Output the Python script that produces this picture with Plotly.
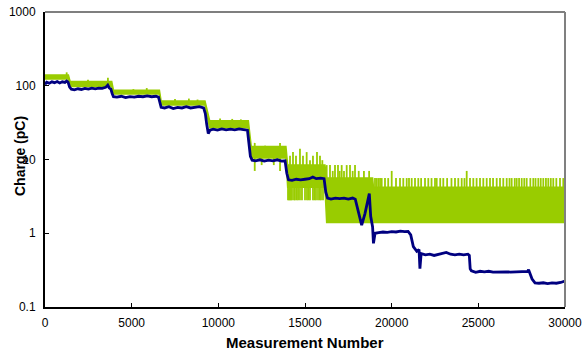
import plotly.graph_objects as go

# ---------------- data ----------------
# Blue trace (dark blue): measurement number / charge (pC)
blue_x = [0, 100, 250, 400, 550, 700, 850, 1000, 1150, 1250, 1330,
          1420, 1520,
          1700, 1900, 2100, 2300, 2500, 2700, 2900, 3100, 3300, 3500, 3620, 3700, 3800,
          3880, 3950,
          4150, 4400, 4650, 4900, 5150, 5400, 5650, 5900, 6150, 6400, 6550,
          6620, 6700,
          6900, 7150, 7400, 7650, 7900, 8150, 8400, 8650, 8900, 9150,
          9250, 9330, 9420, 9520,
          9700, 9950, 10200, 10450, 10700, 10950, 11200, 11450, 11680,
          11760, 11850, 11950,
          12150, 12400, 12650, 12900, 13150, 13400, 13650, 13850,
          13950, 14050,
          14250, 14500, 14750, 15000, 15250, 15450, 15650, 15900, 16100,
          16200, 16300,
          16500, 16750, 17000, 17250, 17500, 17750, 17900,
          18075, 18270, 18460, 18600, 18710, 18790, 18900, 18950, 19040,
          19250, 19500, 19750, 20000, 20250, 20500, 20750, 20950, 21100, 21250, 21450, 21580, 21630, 21700,
          21950, 22200, 22450, 22700, 22950, 23150, 23400, 23650, 23900, 24150, 24400, 24480,
          24530, 24600,
          24850, 25100, 25350, 25600, 25850, 26100, 26350, 26600, 26850, 27100, 27350, 27600, 27850, 27900, 27980,
          28100, 28270,
          28500, 28750, 29000, 29250, 29500, 29750, 30000]
blue_y = [104, 112, 108, 113, 110, 114, 109, 113, 111, 116, 112,
          96, 90,
          88, 91, 89, 92, 90, 93, 91, 93, 92, 95, 102, 94, 90,
          78, 71,
          70, 72, 69, 71, 70, 72, 71, 73, 71, 72, 70,
          58, 51,
          50, 52, 49, 51, 50, 52, 50, 51, 52, 50,
          42, 30, 22.5, 25,
          25.8, 25, 26, 25.3, 25.8, 25.2, 26, 25.5, 25,
          17, 11, 9.8,
          9.6, 9.9, 9.5, 9.8, 9.6, 9.9, 9.5, 9.6,
          6.5, 5.3,
          5.2, 5.4, 5.3, 5.4, 5.5, 5.8, 5.5, 5.6, 5.5,
          3.6, 3.0,
          2.9, 3.0, 2.95, 3.0, 2.9, 3.0, 2.9,
          2.06, 1.29, 1.85, 2.5, 3.45, 1.7, 1.22, 0.73, 1.0,
          1.02, 1.04, 1.03, 1.05, 1.04, 1.07, 1.05, 1.06, 0.95, 0.66, 0.57, 0.6, 0.33, 0.53,
          0.51, 0.52, 0.50, 0.52, 0.54, 0.55, 0.52, 0.51, 0.52, 0.51, 0.52, 0.50,
          0.33, 0.31,
          0.295, 0.305, 0.30, 0.305, 0.298, 0.30, 0.302, 0.30, 0.298, 0.30, 0.299, 0.30, 0.305, 0.32, 0.29,
          0.24, 0.212,
          0.21, 0.213, 0.208, 0.212, 0.21, 0.215, 0.225]

# Green trace (yellow-green): noisy band per plateau, min / max of the band
green_seg_start = [0, 1450, 3950, 6700, 9500, 11900, 14000, 16250, 18950]
green_seg_end = [1350, 3850, 6600, 9230, 11730, 13900, 16150, 18900, 30000]
green_lo = [123, 98, 77, 55, 27, 10.5, 4.2, 1.4, 1.4]
green_hi = [140, 114, 87, 62, 33.5, 15, 8.4, 5.6, 4.2]

# Green excursions above the band: position and peak value
up_x = [1250, 2480, 3630, 5100, 5870, 7500, 8300, 8800, 10100, 10800, 11300,
        12100, 12700, 13560,
        14135, 14307, 14480, 14710, 14884, 15096, 15288, 15460, 15692, 15865, 16000,
        16250, 16442, 16600, 16730, 16903, 17000, 17117, 17250, 17405, 17596, 17750, 17885, 18100, 18400, 18700,
        19038, 19130, 19229, 19330, 19425, 19615, 19800, 20002, 20250, 20480, 20671, 20867, 21000, 21155, 21346,
        21536, 21700, 21923, 22113, 22300, 22500, 22598, 22800, 22979, 23200, 23450, 23654, 23844, 24040, 24200,
        24329, 24519, 24710, 24900, 25096, 25287, 25482, 25673, 25850, 26059, 26250, 26440, 26636, 26800,
        26924, 27100, 27213, 27350, 27502, 27650, 27790, 28000, 28171, 28300, 28459, 28600, 28748, 28900,
        29036, 29180, 29324, 29500, 29711, 29901]
up_top = [152, 121, 128, 90, 93, 66, 67, 65, 36, 35.5, 35,
          16.8, 15.4, 16.8,
          11.2, 12.6, 11.2, 14.0, 11.2, 12.6, 9.8, 11.2, 12.6, 11.2, 9.8,
          8.4, 8.4, 7.0, 8.4, 8.4, 7.0, 8.4, 7.0, 8.4, 8.4, 7.0, 8.4, 7.0, 7.0, 7.0,
          5.6, 5.6, 5.6, 5.6, 5.6, 5.6, 5.6, 7.0, 5.6, 5.6, 5.6, 5.6, 5.6, 5.6, 5.6,
          5.6, 5.6, 5.6, 5.6, 5.6, 5.6, 5.6, 5.6, 5.6, 5.6, 5.6, 5.6, 5.6, 5.6, 5.6,
          7.0, 5.6, 5.6, 5.6, 5.6, 5.6, 5.6, 5.6, 5.6, 5.6, 5.6, 5.6, 5.6, 5.6,
          5.6, 5.6, 5.6, 5.6, 5.6, 5.6, 5.6, 5.6, 5.6, 5.6, 5.6, 5.6, 5.6, 5.6,
          5.6, 5.6, 5.6, 5.6, 5.6, 5.6]

# Green excursions below the band: position and lowest value
down_x = [12100, 12500, 13200, 13560,
          14020, 14080, 14135, 14190, 14250, 14365, 14420, 14520, 14600, 14710, 14826,
          15000, 15115, 15200, 15288, 15460, 15550, 15634, 15750, 15850, 15923, 16038]
down_bot = [7.0, 8.4, 8.4, 7.0,
            2.8, 2.8, 2.8, 2.8, 2.8, 2.8, 2.8, 2.8, 2.8, 2.8, 2.8,
            2.8, 2.8, 2.8, 2.8, 2.8, 2.8, 2.8, 2.8, 2.8, 2.8, 2.8]

x_ticks = [0, 5000, 10000, 15000, 20000, 25000, 30000]
y_ticks = [0.1, 1, 10, 100, 1000]
y_ticktext = ["0.1", "1", "10", "100", "1000"]

x_title = "Measurement Number"
y_title = "Charge (pC)"

GREEN = "#99CC00"
BLUE = "#000080"

# ---------------- build figure ----------------
def band_at(x):
    for s, e, lo, hi in zip(green_seg_start, green_seg_end, green_lo, green_hi):
        if s <= x <= e:
            return lo, hi
    return None

env_x, env_lo, env_hi = [], [], []
for s, e, lo, hi in zip(green_seg_start, green_seg_end, green_lo, green_hi):
    env_x += [s, e]
    env_lo += [lo, lo]
    env_hi += [hi, hi]

sp_x, sp_y = [], []
for x, t in zip(up_x, up_top):
    lo, hi = band_at(x)
    sp_x += [x, x, None]
    sp_y += [hi, t, None]
for x, b in zip(down_x, down_bot):
    lo, hi = band_at(x)
    sp_x += [x, x, None]
    sp_y += [lo, b, None]

fig = go.Figure()
fig.add_trace(go.Scatter(x=env_x, y=env_lo, mode="lines",
                         line=dict(color=GREEN, width=1.5), showlegend=False,
                         hoverinfo="skip"))
fig.add_trace(go.Scatter(x=env_x, y=env_hi, mode="lines", fill="tonexty",
                         fillcolor=GREEN,
                         line=dict(color=GREEN, width=1.5), showlegend=False,
                         hoverinfo="skip"))
fig.add_trace(go.Scatter(x=sp_x, y=sp_y, mode="lines",
                         line=dict(color=GREEN, width=1.8), showlegend=False,
                         connectgaps=False, hoverinfo="skip"))
fig.add_trace(go.Scatter(x=blue_x, y=blue_y, mode="lines",
                         line=dict(color=BLUE, width=2.8), showlegend=False))

fig.update_layout(
    width=583, height=352,
    margin=dict(l=45, r=18, t=12, b=45, autoexpand=False),
    paper_bgcolor="white", plot_bgcolor="white",
    font=dict(family="Liberation Sans, Arial, sans-serif", size=12, color="black"),
    showlegend=False,
)
fig.update_xaxes(
    range=[0, 30000], tickvals=x_ticks, ticktext=[str(v) for v in x_ticks],
    automargin=False, ticklabelstandoff=4,
    showgrid=False, zeroline=False, showline=True, linecolor="black", linewidth=2,
    ticks="inside", ticklen=4, tickcolor="black", tickwidth=1,
)
fig.update_yaxes(
    type="log", range=[-1, 3], tickvals=y_ticks, ticktext=y_ticktext,
    automargin=False, ticklabelstandoff=5,
    showgrid=False, zeroline=False, showline=True, linecolor="black", linewidth=2,
    ticks="inside", ticklen=4, tickcolor="black", tickwidth=1,
)
# axis titles placed in pixel-matched positions
fig.add_annotation(text=x_title, xref="paper", yref="paper",
                   x=0.5, y=-(342 - 307) / 295, xanchor="center", yanchor="middle",
                   showarrow=False, font=dict(size=15, weight="bold", color="black"))
fig.add_annotation(text=y_title, xref="paper", yref="paper",
                   x=-(45 - 20) / 520, y=(307 - 156) / 295, xanchor="center", yanchor="middle",
                   textangle=-90, showarrow=False,
                   font=dict(size=14, weight="bold", color="black"))
fig.add_shape(type="line", xref="paper", yref="paper", x0=0, x1=1, y0=1, y1=1,
              line=dict(color="#555555", width=1.5))
fig.add_shape(type="line", xref="paper", yref="paper", x0=1, x1=1, y0=0, y1=1,
              line=dict(color="#808080", width=2))

fig.write_html("out.html")
